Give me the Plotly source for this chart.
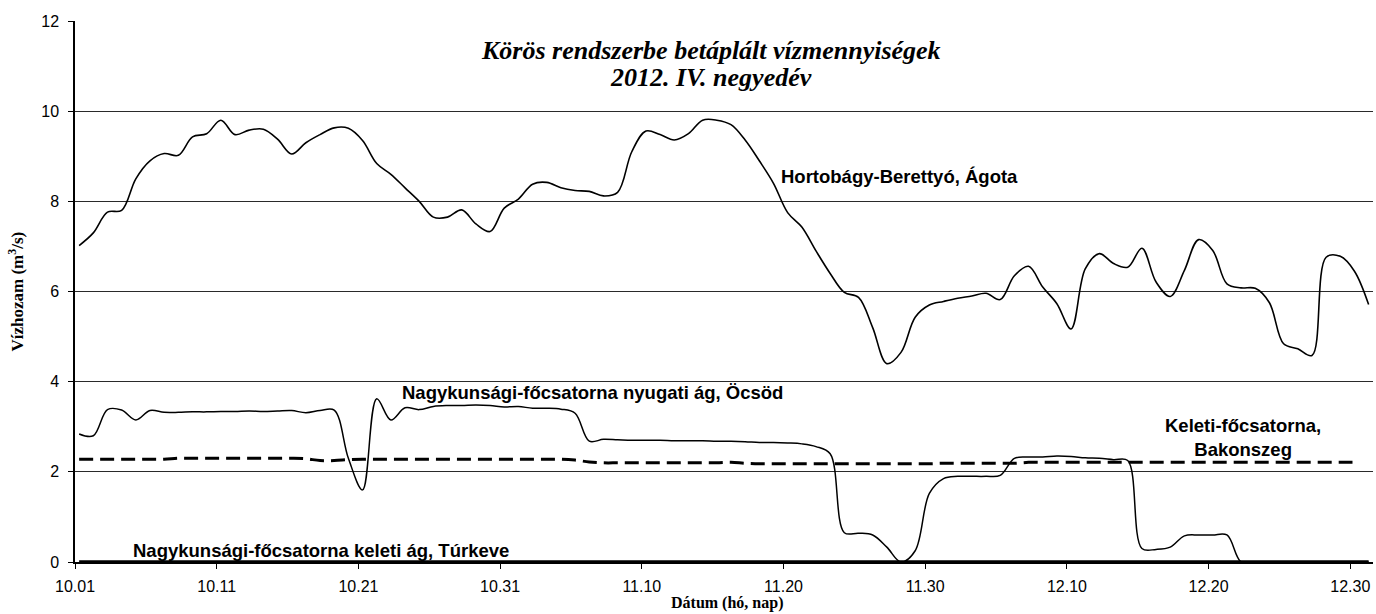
import pandas as pd
import plotly.graph_objects as go

# ---- data (daily readings, 2012-10-01 .. 2012-12-31) ----
dates = pd.date_range("2012-10-01 07:00", periods=92, freq="D")

hortobagy = [
    7.02, 7.30, 7.76, 7.80, 8.50, 8.90, 9.06, 9.02, 9.43, 9.50,
    9.80, 9.48, 9.58, 9.60, 9.38, 9.05, 9.30, 9.48, 9.63, 9.62,
    9.35, 8.84, 8.60, 8.30, 8.00, 7.65, 7.65, 7.81, 7.50, 7.33,
    7.85, 8.05, 8.38, 8.42, 8.30, 8.24, 8.22, 8.12, 8.20, 9.10,
    9.56, 9.48, 9.36, 9.50, 9.80, 9.80, 9.70, 9.36, 8.90, 8.40,
    7.75, 7.43, 6.90, 6.40, 5.98, 5.87, 5.20, 4.40, 4.65, 5.43,
    5.70, 5.78, 5.85, 5.90, 5.96, 5.82, 6.35, 6.56, 6.10, 5.73,
    5.17, 6.50, 6.84, 6.62, 6.54, 6.96, 6.21, 5.89, 6.47, 7.15,
    6.91, 6.17, 6.08, 6.07, 5.75, 4.84, 4.73, 4.58, 6.76, 6.78,
    6.45, 5.71,
]

nyugati = [
    2.84, 2.80, 3.38, 3.37, 3.15, 3.36, 3.32, 3.32, 3.33, 3.33,
    3.34, 3.34, 3.35, 3.34, 3.35, 3.36, 3.31, 3.36, 3.37, 2.30,
    1.60, 3.62, 3.15, 3.42, 3.38, 3.45, 3.47, 3.47, 3.48, 3.47,
    3.44, 3.45, 3.41, 3.41, 3.39, 3.30, 2.68, 2.72, 2.71, 2.70,
    2.70, 2.70, 2.69, 2.69, 2.69, 2.68, 2.68, 2.67, 2.65, 2.65,
    2.64, 2.62, 2.56, 2.40, 0.65, 0.64, 0.60, 0.33, 0.00, 0.25,
    1.52, 1.85, 1.90, 1.90, 1.90, 1.92, 2.30, 2.33, 2.33, 2.35,
    2.34, 2.31, 2.30, 2.27, 2.25, 0.30, 0.28, 0.33, 0.58, 0.60,
    0.60, 0.60, 0.00, 0.00, 0.00, 0.00, 0.00, 0.00, 0.00, 0.00,
    0.00, 0.00,
]

bakonszeg = [
    2.28, 2.28, 2.28, 2.28, 2.28, 2.28, 2.28, 2.30, 2.30, 2.30,
    2.30, 2.30, 2.30, 2.30, 2.30, 2.30, 2.29, 2.25, 2.25, 2.27,
    2.28, 2.28, 2.28, 2.28, 2.28, 2.28, 2.28, 2.28, 2.28, 2.28,
    2.28, 2.28, 2.28, 2.28, 2.28, 2.26, 2.22, 2.20, 2.20, 2.20,
    2.20, 2.20, 2.20, 2.20, 2.20, 2.20, 2.21, 2.19, 2.18, 2.18,
    2.18, 2.18, 2.18, 2.18, 2.18, 2.18, 2.18, 2.18, 2.18, 2.18,
    2.18, 2.19, 2.19, 2.19, 2.19, 2.19, 2.19, 2.21, 2.21, 2.21,
    2.21, 2.21, 2.21, 2.21, 2.21, 2.21, 2.21, 2.21, 2.21, 2.21,
    2.21, 2.21, 2.21, 2.21, 2.21, 2.21, 2.21, 2.21, 2.21, 2.21,
    2.21, None,
]

turkeve = [0.0] * 92

title_line1 = "Körös rendszerbe betáplált vízmennyiségek"
title_line2 = "2012. IV. negyedév"
y_title = "Vízhozam (m<sup>3</sup>/s)"
x_title = "Dátum (hó, nap)"
lbl_hortobagy = "Hortobágy-Berettyó, Ágota"
lbl_nyugati = "Nagykunsági-főcsatorna nyugati ág, Öcsöd"
lbl_turkeve = "Nagykunsági-főcsatorna keleti ág, Túrkeve"
lbl_bakonszeg = "Keleti-főcsatorna,<br>Bakonszeg"

# ---- figure ----
fig = go.Figure()
fig.add_trace(go.Scatter(x=dates, y=bakonszeg, mode="lines",
                         line=dict(color="black", width=3, dash="14px,7px", shape="spline"),
                         connectgaps=False))
fig.add_trace(go.Scatter(x=dates, y=hortobagy, mode="lines",
                         line=dict(color="black", width=1.6, shape="spline")))
fig.add_trace(go.Scatter(x=dates, y=nyugati, mode="lines",
                         line=dict(color="black", width=1.5, shape="spline")))
fig.add_trace(go.Scatter(x=dates, y=turkeve, mode="lines",
                         line=dict(color="black", width=3.5)))

sans = "Liberation Sans, Arial, sans-serif"
serif = "Liberation Serif, Times New Roman, serif"

fig.update_layout(
    template="none",
    width=1376, height=614,
    margin=dict(l=75, r=3, t=21, b=52, autoexpand=False),
    paper_bgcolor="white", plot_bgcolor="white",
    showlegend=False,
    font=dict(family=sans, size=16, color="black"),
    xaxis=dict(
        type="date", automargin=False,
        range=["2012-10-01", "2012-12-31 14:24"],
        tick0="2012-10-01", dtick=864000000, tickformat="%m.%d",
        showgrid=False, zeroline=False,
        showline=True, linecolor="black", linewidth=1.5,
        ticks="outside", ticklen=5, tickcolor="black", tickwidth=1.2,
        tickfont=dict(family=sans, size=16, color="black"),
        ticklabelstandoff=4,
    ),
    yaxis=dict(
        range=[0, 12], tick0=0, dtick=2, automargin=False,
        showgrid=True, gridcolor="#2a2a2a", gridwidth=1,
        zeroline=False,
        showline=True, linecolor="black", linewidth=1.5,
        ticks="outside", ticklen=5, tickcolor="black", tickwidth=1.2,
        tickfont=dict(family=sans, size=16, color="black"),
        ticklabelstandoff=6,
    ),
)

ann_bold = dict(family=sans, size=18.5, color="black", weight="bold")
title_font = dict(family=serif, size=26, color="black", weight="bold", style="italic")
annotations = [
    dict(text=title_line1, xref="paper", yref="paper", x=0.49, y=0.946, font=title_font),
    dict(text=title_line2, xref="paper", yref="paper", x=0.49, y=0.895, font=title_font),
    dict(text=y_title, xref="paper", yref="paper", x=-0.0462, y=0.50, textangle=-90,
         font=dict(family=serif, size=17, color="black", weight="bold")),
    dict(text=x_title, xref="paper", yref="paper", x=0.502, y=-0.076,
         font=dict(family=serif, size=16, color="black", weight="bold")),
    dict(text=lbl_hortobagy, xref="paper", yref="y", x=0.635, y=8.55, font=ann_bold),
    dict(text=lbl_nyugati, xref="paper", yref="y", x=0.399, y=3.75, font=ann_bold),
    dict(text=lbl_turkeve, xref="paper", yref="y", x=0.1895, y=0.26, font=ann_bold),
    dict(text=lbl_bakonszeg, xref="paper", yref="y", x=0.900, y=2.76, font=ann_bold),
]
for a in annotations:
    a.update(showarrow=False, xanchor="center", yanchor="middle")
fig.update_layout(annotations=annotations)

fig.write_html(
    "out.html",
    config={"displayModeBar": False},
    post_script="document.body.style.margin='0px';document.body.style.overflow='hidden';",
)
